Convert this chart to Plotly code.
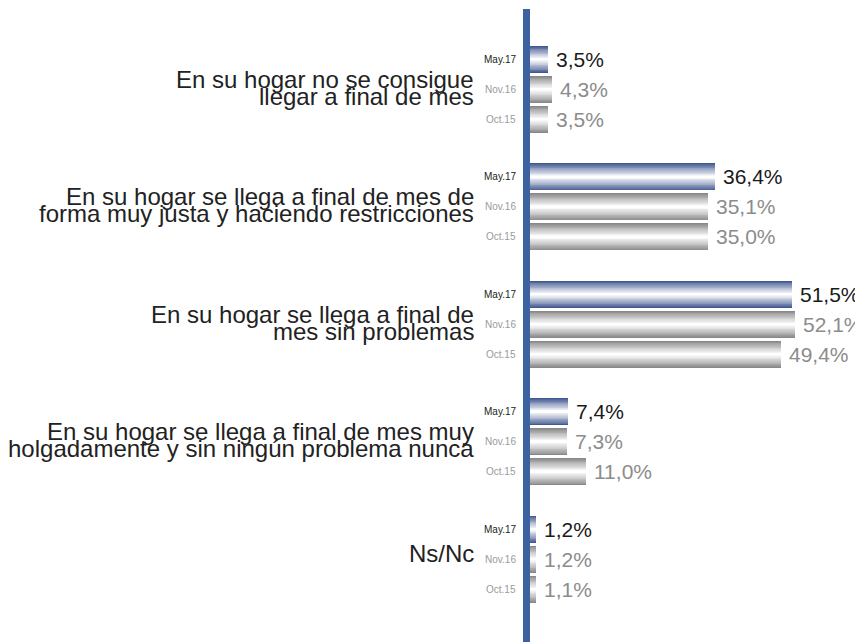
import plotly.graph_objects as go

# Data
categories = [
    "En su hogar no se consigue<br>llegar a final de mes",
    "En su hogar se llega a final de mes de<br>forma muy justa y haciendo restricciones",
    "En su hogar se llega a final de<br>mes sin problemas",
    "En su hogar se llega a final de mes muy<br>holgadamente y sin ningún problema nunca",
    "Ns/Nc",
]
periods = ["May.17", "Nov.16", "Oct.15"]
may17 = [3.5, 36.4, 51.5, 7.4, 1.2]
nov16 = [4.3, 35.1, 52.1, 7.3, 1.2]
oct15 = [3.5, 35.0, 49.4, 11.0, 1.1]

series = [may17, nov16, oct15]

# Styling
GROUP_STEP = 3.915
BAR_WIDTH = 0.9
LAYERS = 16
edge_colors = [(66, 88, 145), (136, 136, 136), (136, 136, 136)]
value_colors = ["#1a1a1a", "#8c8c8c", "#8c8c8c"]
period_colors = ["#222222", "#9a9a9a", "#9a9a9a"]
FONT = "Liberation Sans, Arial, sans-serif"


def mix(c, t):
    r, g, b = [int(round(v + (255 - v) * t)) for v in c]
    return "rgb(%d,%d,%d)" % (r, g, b)


def fmt(v):
    return ("%.1f" % v).replace(".", ",") + "%"


fig = go.Figure()
annotations = []

for k, (period, values) in enumerate(zip(periods, series)):
    positions = [g * GROUP_STEP + k for g in range(len(categories))]
    # layered bars fake the vertical gradient (dark edges, white centre)
    for i in range(LAYERS):
        t = i / (LAYERS - 1)
        fig.add_trace(
            go.Bar(
                x=values,
                y=positions,
                orientation="h",
                width=BAR_WIDTH * (1 - i / LAYERS),
                marker=dict(color=mix(edge_colors[k], t ** 0.9), line=dict(width=0)),
                name=period,
                showlegend=False,
                hoverinfo="skip",
            )
        )
    for v, p in zip(values, positions):
        annotations.append(
            dict(
                x=v, y=p, xref="x", yref="y", text=fmt(v), showarrow=False,
                xanchor="left", yanchor="middle", xshift=6,
                font=dict(family=FONT, size=21, color=value_colors[k]),
            )
        )
        annotations.append(
            dict(
                x=0, y=p, xref="paper", yref="y", text=period, showarrow=False,
                xanchor="right", yanchor="middle", xshift=-12,
                font=dict(family=FONT, size=10, color=period_colors[k]),
            )
        )

for g, cat in enumerate(categories):
    centre = g * GROUP_STEP + 1
    lines = cat.split("<br>")
    shifts = [10, -7] if len(lines) == 2 else [6]
    for line, s in zip(lines, shifts):
        annotations.append(
            dict(
                x=0, y=centre, xref="paper", yref="y", text=line, showarrow=False,
                xanchor="right", yanchor="middle", xshift=-54, yshift=s,
                font=dict(family=FONT, size=24, color="#222222"),
            )
        )

# page body adds an 8px margin, so the figure is 8px smaller and shifted
fig.update_layout(
    width=855,
    height=634,
    margin=dict(l=522, r=0, t=1, b=0),
    paper_bgcolor="white",
    plot_bgcolor="white",
    barmode="overlay",
    bargap=0,
    xaxis=dict(range=[0, 65.55], visible=False, fixedrange=True),
    yaxis=dict(range=[19.42, -1.683], visible=False, fixedrange=True),
    annotations=annotations,
    shapes=[
        dict(
            type="rect", xref="paper", yref="paper", xsizemode="pixel",
            xanchor=0, x0=-7, x1=0, y0=0, y1=1,
            fillcolor="#3d62a0", line=dict(width=0), layer="above",
        )
    ],
)

fig.write_html("out.html")
